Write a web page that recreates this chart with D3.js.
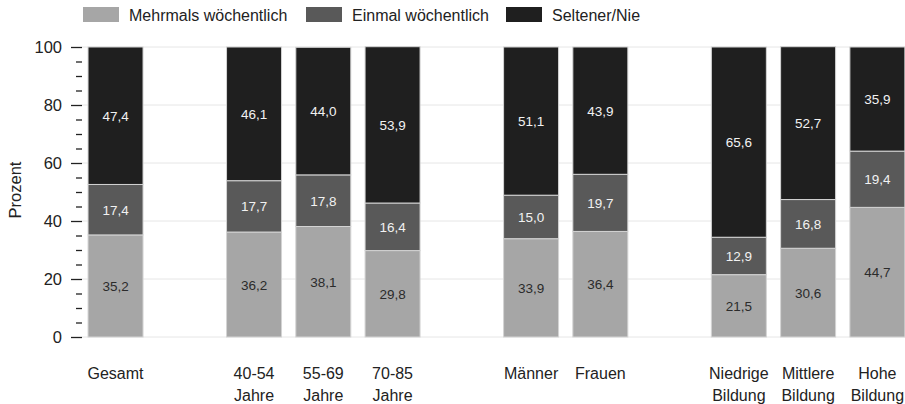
<!DOCTYPE html>
<meta charset="utf-8">
<style>
  body { margin: 0; background: #fff; }
  text { font-family: "Liberation Sans", Arial, sans-serif; }
</style>
<script src="https://d3js.org/d3.v7.min.js"></script>
<div id="chart"></div>
<script>
// slots incl. empty gaps between the groups
var slots = ["Gesamt", "gap1", "40-54 Jahre", "55-69 Jahre", "70-85 Jahre", "gap2",
             "Männer", "Frauen", "gap3", "Niedrige Bildung", "Mittlere Bildung", "Hohe Bildung"];
var categories = ["Gesamt", "40-54 Jahre", "55-69 Jahre", "70-85 Jahre",
                  "Männer", "Frauen", "Niedrige Bildung", "Mittlere Bildung", "Hohe Bildung"];
var labelLines = [["Gesamt"], ["40-54", "Jahre"], ["55-69", "Jahre"], ["70-85", "Jahre"],
                  ["Männer"], ["Frauen"], ["Niedrige", "Bildung"], ["Mittlere", "Bildung"], ["Hohe", "Bildung"]];
var mehrmals = [35.2, 36.2, 38.1, 29.8, 33.9, 36.4, 21.5, 30.6, 44.7];
var einmal   = [17.4, 17.7, 17.8, 16.4, 15.0, 19.7, 12.9, 16.8, 19.4];
var selten   = [47.4, 46.1, 44.0, 53.9, 51.1, 43.9, 65.6, 52.7, 35.9];
var seriesNames = ["Mehrmals wöchentlich", "Einmal wöchentlich", "Seltener/Nie"];
var colors = ["#a6a6a6", "#595959", "#1f1f1f"];
var textColors = ["#2b2b2b", "#f2f2f2", "#f2f2f2"];

var W = 905, H = 404;
var svg = d3.select("#chart").append("svg").attr("width", W).attr("height", H);

var x = d3.scaleBand().domain(slots).range([80.9, 912]).paddingInner(0.206).paddingOuter(0.103);
var y = d3.scaleLinear().domain([0, 100]).range([337, 47]);

// grid
svg.append("g").selectAll("line").data(d3.range(0, 101, 20)).enter().append("line")
  .attr("x1", 82).attr("x2", W)
  .attr("y1", d => y(d)).attr("y2", d => y(d))
  .attr("stroke", "#e6e6e6").attr("stroke-width", 1);

// axis: major + minor ticks
var axMinor = svg.append("g").attr("transform", "translate(82,0)")
  .call(d3.axisLeft(y).tickValues(d3.range(5, 100, 5).filter(d => d % 20)).tickSize(6).tickFormat(""));
var axMajor = svg.append("g").attr("transform", "translate(82,0)")
  .call(d3.axisLeft(y).tickValues(d3.range(0, 101, 20)).tickSize(11).tickPadding(9));
[axMinor, axMajor].forEach(function(a) {
  a.select(".domain").remove();
  a.selectAll("line").attr("stroke", "#222").attr("stroke-width", 1.3);
  a.selectAll("text").attr("fill", "#222").style("font-size", "16.5px")
    .style("font-family", "'Liberation Sans', Arial, sans-serif");
});

svg.append("text").attr("transform", "translate(21," + (y(50) - 2) + ")rotate(-90)")
  .attr("text-anchor", "middle").style("font-size", "16.5px").attr("fill", "#222").text("Prozent");

// stacked data
var rows = categories.map(function(c, i) {
  return { cat: c, vals: [mehrmals[i], einmal[i], selten[i]] };
});
var segs = [];
rows.forEach(function(r) {
  var acc = 0;
  r.vals.forEach(function(v, k) {
    segs.push({ cat: r.cat, k: k, v: v, y0: acc, y1: acc + v });
    acc += v;
  });
});

svg.append("g").selectAll("rect").data(segs).enter().append("rect")
  .attr("x", d => x(d.cat))
  .attr("width", x.bandwidth())
  .attr("y", d => y(d.y1))
  .attr("height", d => y(d.y0) - y(d.y1))
  .attr("fill", d => colors[d.k])
  .attr("stroke", "#d4d4d4").attr("stroke-width", 1);

svg.append("g").selectAll("text").data(segs).enter().append("text")
  .attr("x", d => x(d.cat) + x.bandwidth() / 2)
  .attr("y", d => y((d.y0 + d.y1) / 2) + 5)
  .attr("text-anchor", "middle")
  .style("font-size", "13.5px")
  .attr("fill", d => textColors[d.k])
  .text(d => d3.format(".1f")(d.v).replace(".", ","));

// category labels
var cl = svg.append("g").selectAll("text").data(categories).enter().append("text")
  .attr("text-anchor", "middle").style("font-size", "16px").attr("fill", "#222")
  .attr("x", d => x(d) + x.bandwidth() / 2);
cl.each(function(d, i) {
  d3.select(this).selectAll("tspan").data(labelLines[i]).enter().append("tspan")
    .attr("x", x(d) + x.bandwidth() / 2)
    .attr("y", (t, j) => 378.5 + j * 22)
    .text(t => t);
});

// legend
var legX = [83, 306, 506];
var leg = svg.append("g").selectAll("g").data(seriesNames).enter().append("g")
  .attr("transform", (d, i) => "translate(" + legX[i] + ",7)");
leg.append("rect").attr("width", 36).attr("height", 15).attr("fill", (d, i) => colors[i]);
leg.append("text").attr("x", 46).attr("y", 13.5).style("font-size", "16px").attr("fill", "#222").text(d => d);
</script>
